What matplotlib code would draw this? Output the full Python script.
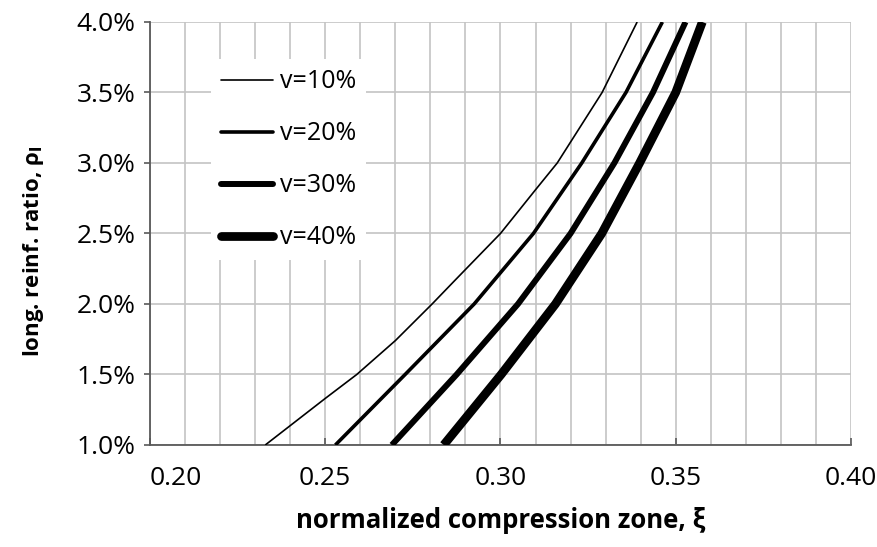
import numpy as np
import matplotlib.pyplot as plt
from matplotlib.ticker import MultipleLocator, FuncFormatter

plt.rcParams['font.family'] = ['Open Sans', 'DejaVu Sans']

# values: (xi, rho_l in %)
xi_10 = [0.2329, 0.25, 0.259, 0.27, 0.2805, 0.2871, 0.30, 0.31, 0.3162, 0.329, 0.339]
rho_10 = [1.0, 1.33, 1.5, 1.74, 2.0, 2.17, 2.5, 2.81, 3.0, 3.5, 4.0]

xi_20 = [0.2529, 0.2728, 0.2925, 0.3094, 0.3232, 0.3358, 0.3462]
rho_20 = [1.0, 1.5, 2.0, 2.5, 3.0, 3.5, 4.0]

xi_30 = [0.2690, 0.2875, 0.305, 0.32, 0.3325, 0.3435, 0.3528]
rho_30 = [1.0, 1.5, 2.0, 2.5, 3.0, 3.5, 4.0]

xi_40 = [0.2838, 0.3002, 0.3157, 0.3289, 0.3397, 0.3500, 0.3576]
rho_40 = [1.0, 1.5, 2.0, 2.5, 3.0, 3.5, 4.0]

labels = ["v=10%", "v=20%", "v=30%", "v=40%"]
widths = [1.2, 2.6, 4.3, 6.3]

fig = plt.figure(figsize=(8.78, 5.47), dpi=100)
ax = fig.add_axes([0.1708, 0.1865, 0.7984, 0.7733])

series = [(xi_10, rho_10), (xi_20, rho_20), (xi_30, rho_30), (xi_40, rho_40)]
for (x, y), lab, lw in zip(series, labels, widths):
    ax.plot(x, y, color='black', lw=lw, label=lab, solid_capstyle='butt',
            solid_joinstyle='round', zorder=3)

ax.set_xlim(0.20, 0.40)
ax.set_ylim(1.0, 4.0)
ax.xaxis.set_major_locator(MultipleLocator(0.05))
ax.xaxis.set_minor_locator(MultipleLocator(0.01))
ax.yaxis.set_major_locator(MultipleLocator(0.5))
ax.xaxis.set_major_formatter(FuncFormatter(lambda v, p: f"{v:.2f}"))
ax.yaxis.set_major_formatter(FuncFormatter(lambda v, p: f"{v:.1f}%"))

ax.grid(True, which='both', axis='x', color='#c4c4c4', lw=1.2, zorder=0)
ax.grid(True, which='major', axis='y', color='#c4c4c4', lw=1.2, zorder=0)
ax.set_axisbelow(True)

for s in ['top', 'right']:
    ax.spines[s].set_visible(False)
for s in ['left', 'bottom']:
    ax.spines[s].set_color('#595959')
    ax.spines[s].set_linewidth(1.3)

ax.tick_params(axis='x', which='major', direction='in', length=5, width=1.2,
               color='#595959', labelsize=19, pad=15)
ax.tick_params(axis='x', which='minor', length=0)
ax.tick_params(axis='y', which='major', direction='out', length=4.3, width=1.2,
               color='#595959', labelsize=19, pad=6)
for t in ax.get_xticklabels():
    if t.get_text() == "0.20":
        t.set_horizontalalignment('left')

ax.set_xlabel("normalized compression zone, ξ", fontsize=18.5, fontweight='bold', labelpad=12)
ax.set_ylabel(r"long. reinf. ratio, ρ$_\mathbf{l}$", fontsize=16, fontweight='bold')
ax.yaxis.set_label_coords(-0.149, 0.4586)

leg = ax.legend(loc='upper left', bbox_to_anchor=(0.069, 0.941), fontsize=18,
                frameon=True, facecolor='white', edgecolor='none', framealpha=1,
                fancybox=False, handlelength=2.1, handletextpad=0.25,
                labelspacing=1.08, borderpad=0.4)
for line in leg.get_lines():
    line.set_solid_capstyle('round')
leg.set_zorder(4)

fig.savefig("out.png", dpi=100)
